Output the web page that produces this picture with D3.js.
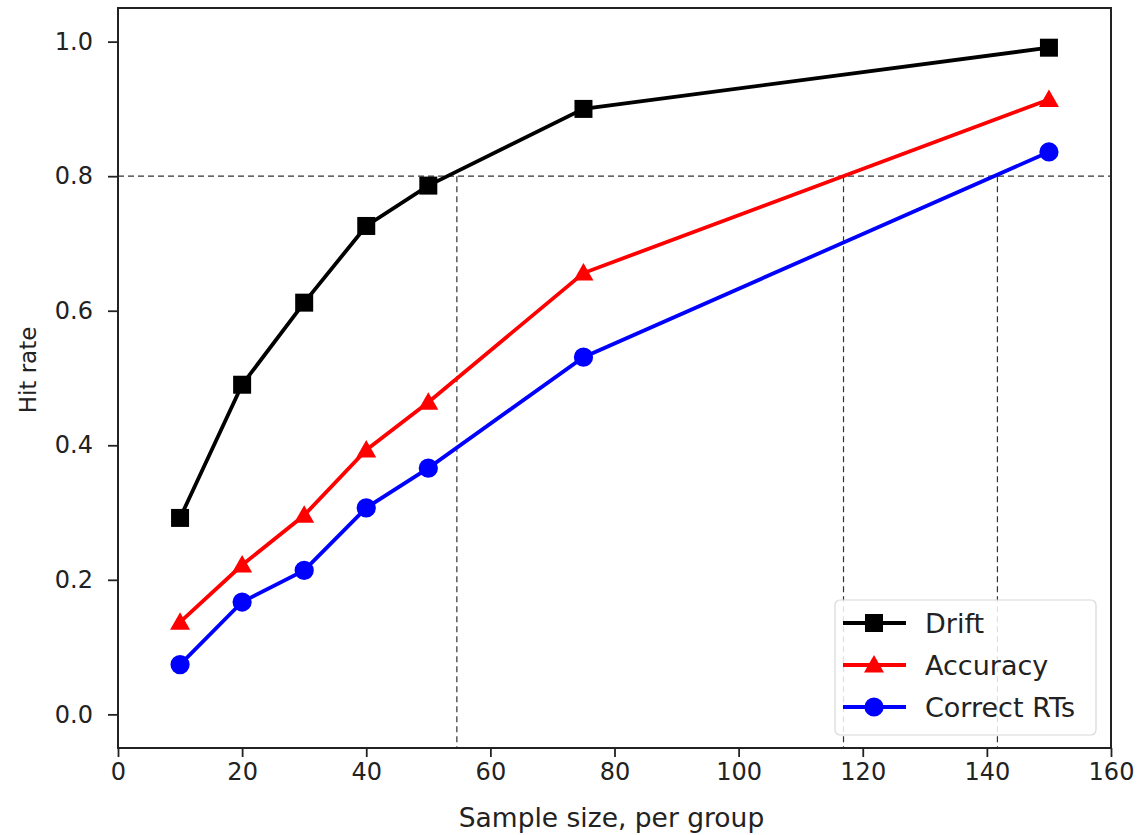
<!DOCTYPE html>
<html>
<head>
<meta charset="utf-8">
<script src="https://cdn.jsdelivr.net/npm/d3@7"></script>
<style>
  body { margin: 0; background: #fff; }
  text { font-family: "DejaVu Sans", sans-serif; }
</style>
</head>
<body>
<div id="chart"></div>
<script>
// data
const sampleSizes = [10, 20, 30, 40, 50, 75, 150];
const drift    = [0.292, 0.490, 0.612, 0.726, 0.786, 0.900, 0.991];
const accuracy = [0.137, 0.222, 0.296, 0.393, 0.464, 0.656, 0.914];
const correctRTs = [0.074, 0.167, 0.214, 0.307, 0.366, 0.531, 0.836];
const seriesNames = ["Drift", "Accuracy", "Correct RTs"];
const seriesColors = ["#000000", "#ff0000", "#0000ff"];
const seriesMarkers = ["square", "triangle", "circle"];
const targetRate = 0.8;
const crossings = [54.6, 116.9, 141.7];
const xTicks = [0, 20, 40, 60, 80, 100, 120, 140, 160];
const yTicks = [0.0, 0.2, 0.4, 0.6, 0.8, 1.0];

const W = 1139, H = 835;
const margin = {top: 8, right: 28, bottom: 87, left: 118};
const width = W - margin.left - margin.right,
      height = H - margin.top - margin.bottom;

const svg = d3.select("#chart").append("svg")
    .attr("width", W).attr("height", H)
  .append("g")
    .attr("transform", `translate(${margin.left},${margin.top})`);

const x = d3.scaleLinear().domain([0, 160]).range([0, width]);
const y = d3.scaleLinear().domain([-0.05, 1.05]).range([height, 0]);

// reference lines
const dash = "6,4";
svg.append("line")
    .attr("x1", x(0)).attr("x2", x(160))
    .attr("y1", y(targetRate)).attr("y2", y(targetRate))
    .attr("stroke", "#333").attr("stroke-width", 1.2).attr("stroke-dasharray", dash);
svg.selectAll("vline").data(crossings).join("line")
    .attr("x1", d => x(d)).attr("x2", d => x(d))
    .attr("y1", y(targetRate)).attr("y2", height)
    .attr("stroke", "#333").attr("stroke-width", 1.2).attr("stroke-dasharray", dash);

const allSeries = [drift, accuracy, correctRTs].map((vals, i) => ({
  name: seriesNames[i], color: seriesColors[i], marker: seriesMarkers[i],
  points: sampleSizes.map((s, j) => [s, vals[j]])
}));

const line = d3.line().x(d => x(d[0])).y(d => y(d[1]));

function markerPath(kind) {
  if (kind === "square") return d3.symbol(d3.symbolSquare, 324)();
  if (kind === "triangle") return "M0,-10L10,7.5L-10,7.5Z";
  return d3.symbol(d3.symbolCircle, 290)();
}

allSeries.forEach(s => {
  svg.append("path")
      .attr("d", line(s.points))
      .attr("fill", "none").attr("stroke", s.color).attr("stroke-width", 3.8);
  svg.selectAll(null).data(s.points).join("path")
      .attr("d", markerPath(s.marker))
      .attr("transform", d => `translate(${x(d[0])},${y(d[1])})`)
      .attr("fill", s.color);
});

// axes
const xAxis = svg.append("g").attr("transform", `translate(0,${height})`)
    .call(d3.axisBottom(x).tickValues(xTicks).tickSize(9).tickPadding(6).tickFormat(d3.format("d")));
const yAxis = svg.append("g")
    .call(d3.axisLeft(y).tickValues(yTicks).tickSize(10).tickPadding(15).tickFormat(d3.format(".1f")));
[xAxis, yAxis].forEach(a => {
  a.select(".domain").remove();
  a.selectAll("line").attr("stroke", "#222").attr("stroke-width", 1.8);
  a.selectAll("text").attr("font-size", 24).attr("fill", "#222")
      .attr("font-family", "DejaVu Sans, sans-serif");
});

// frame
svg.append("rect").attr("width", width).attr("height", height)
    .attr("fill", "none").attr("stroke", "#222").attr("stroke-width", 2);

// axis titles
svg.append("text").attr("x", width / 2 - 3).attr("y", height + 79)
    .attr("text-anchor", "middle").attr("font-size", 26.5).attr("fill", "#222")
    .text("Sample size, per group");
svg.append("text")
    .attr("transform", `translate(${-82},${370 - margin.top}) rotate(-90)`)
    .attr("text-anchor", "middle").attr("font-size", 23).attr("fill", "#222")
    .attr("font-family", "Liberation Sans, Arial, sans-serif")
    .text("Hit rate");

// legend
const lg = svg.append("g").attr("transform", `translate(${835 - margin.left},${600 - margin.top})`);
lg.append("rect").attr("width", 261).attr("height", 135).attr("rx", 5)
    .attr("fill", "#fff").attr("fill-opacity", 0.85)
    .attr("stroke", "#d8d8d8").attr("stroke-width", 1.2);
allSeries.forEach((s, i) => {
  const cy = 23 + i * 42;
  lg.append("line").attr("x1", 8).attr("x2", 71).attr("y1", cy).attr("y2", cy)
      .attr("stroke", s.color).attr("stroke-width", 3.8);
  lg.append("path").attr("d", markerPath(s.marker))
      .attr("transform", `translate(39,${cy})`).attr("fill", s.color);
  lg.append("text").attr("x", 90).attr("y", cy).attr("dy", "0.36em")
      .attr("font-size", 27).attr("fill", "#222").text(s.name);
});
</script>
</body>
</html>
